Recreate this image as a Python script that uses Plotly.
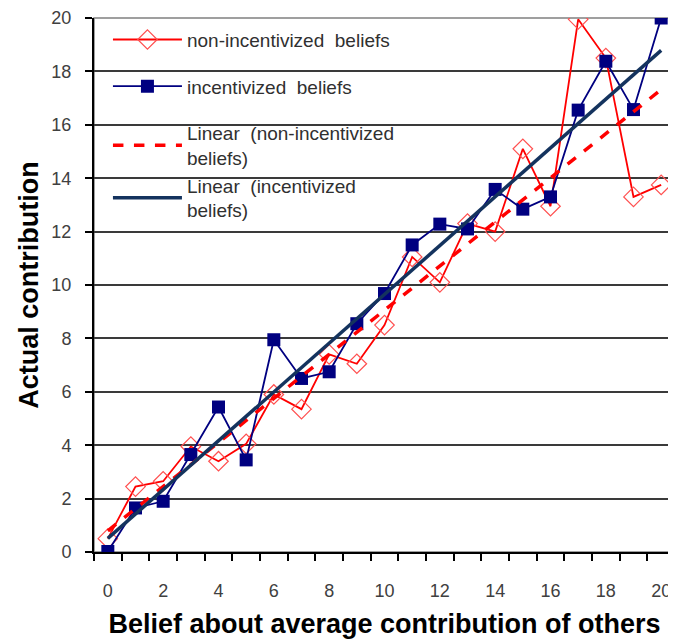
import numpy as np
import plotly.graph_objects as go

belief = list(range(21))
non_incentivized = [0.5, 2.45, 2.65, 3.95, 3.4, 4.05, 5.9, 5.35, 7.4, 7.05, 8.5,
                    11.05, 10.1, 12.3, 12.0, 15.1, 12.95, 19.95, 18.5, 13.3, 13.75]
incentivized = [0.02, 1.65, 1.9, 3.65, 5.43, 3.45, 7.95, 6.5, 6.75, 8.55, 9.68,
                11.5, 12.28, 12.1, 13.58, 12.84, 13.3, 16.55, 18.38, 16.57, 20.0]
x_tick_labels = [str(v) for v in range(0, 21, 2)]
y_tick_labels = [str(v) for v in range(0, 21, 2)]

names = ["non-incentivized  beliefs", "incentivized  beliefs",
         "Linear  (non-incentivized<br>beliefs)", "Linear  (incentivized<br>beliefs)"]

xa = np.array(belief, dtype=float)
fit_red = np.polyfit(xa, np.array(non_incentivized), 1)
fit_blue = np.polyfit(xa, np.array(incentivized), 1)
x_end = [belief[0], belief[-1]]

fig = go.Figure()
fig.add_trace(go.Scatter(
    x=belief, y=non_incentivized, mode="lines+markers", name=names[0],
    line=dict(color="#FF0000", width=1.8),
    marker=dict(symbol="diamond-open", size=15, color="#FF5050", line=dict(width=1.2)),
    legendgroup="a"))
fig.add_trace(go.Scatter(
    x=belief, y=incentivized, mode="lines+markers", name=names[1],
    line=dict(color="#000080", width=1.8),
    marker=dict(symbol="square", size=13, color="#000080"),
    legendgroup="b"))
fig.add_trace(go.Scatter(
    x=x_end, y=list(np.polyval(fit_red, x_end)), mode="lines", name=names[2],
    line=dict(color="#FF0000", width=3.5, dash="dash"),
    legendgroup="c"))
fig.add_trace(go.Scatter(
    x=x_end, y=list(np.polyval(fit_blue, x_end)), mode="lines", name=names[3],
    line=dict(color="#14335E", width=3.5),
    legendgroup="c"))

tick_font = dict(family="Liberation Sans, Arial, sans-serif", size=18, color="#404040")
title_font = dict(family="Liberation Sans, Arial, sans-serif", size=27, color="#000000")

fig.update_layout(
    width=668, height=634,
    margin=dict(l=86, r=1, t=10, b=90),
    paper_bgcolor="white", plot_bgcolor="white",
    showlegend=True,
    legend=dict(x=0.024, y=0.995, xanchor="left", yanchor="top",
                bgcolor="rgba(255,255,255,0)",
                font=dict(family="Liberation Sans, Arial, sans-serif", size=19, color="#303030"),
                tracegroupgap=19, itemwidth=69),
    xaxis=dict(
        range=[-0.5, 20.5], automargin=False,
        tickmode="array", tickvals=list(range(0, 21, 2)), ticktext=x_tick_labels,
        ticks="", showgrid=False, zeroline=False,
        showline=True, linecolor="#000000", linewidth=2,
        tickfont=tick_font, ticklabelstandoff=21,
        minor=dict(tick0=-0.5, dtick=1, ticks="outside", ticklen=7,
                   tickcolor="#000000", tickwidth=1.5, showgrid=False),
        title=dict(text="<b>Belief about average contribution of others</b>",
                   font=title_font, standoff=15),
    ),
    yaxis=dict(
        range=[0, 20], automargin=False,
        tickmode="array", tickvals=list(range(0, 21, 2)), ticktext=y_tick_labels,
        ticks="outside", ticklen=7, tickcolor="#000000", tickwidth=1.5,
        showgrid=True, gridcolor="#3A3A3A", gridwidth=1.5,
        zeroline=False,
        showline=True, linecolor="#000000", linewidth=2,
        tickfont=tick_font, ticklabelstandoff=10,
        title=dict(text="<b>Actual contribution</b>", font=title_font, standoff=5),
    ),
    shapes=[dict(type="rect", xref="paper", yref="paper", x0=0, x1=1, y0=0, y1=1,
                 line=dict(color="#808080", width=1.5), layer="below")],
)

fig.write_html("out.html")
